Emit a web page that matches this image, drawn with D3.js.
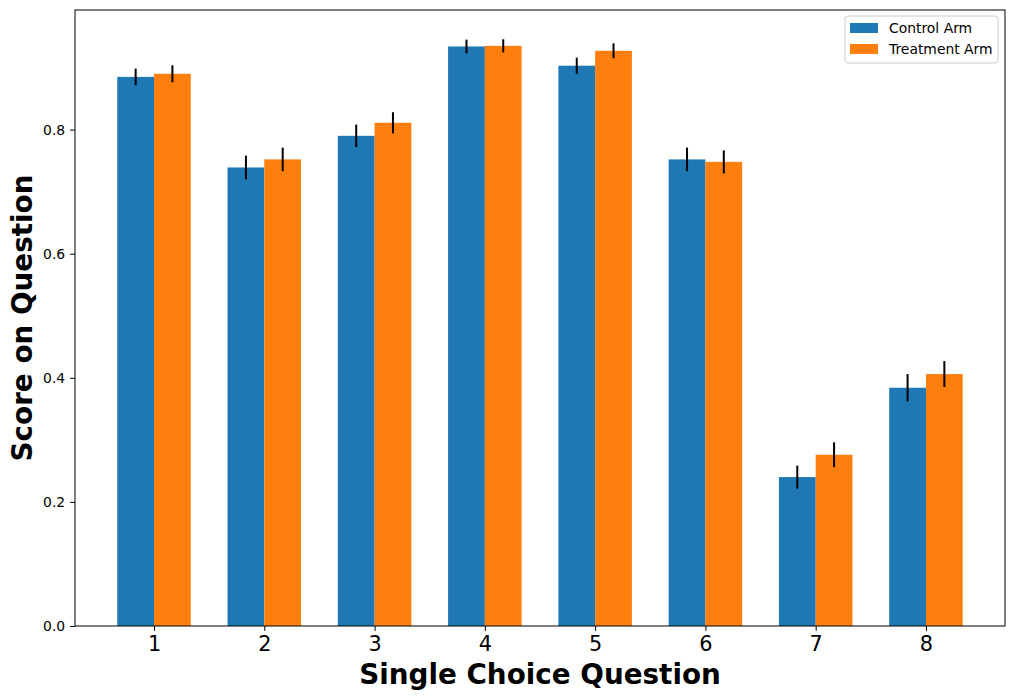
<!DOCTYPE html>
<html>
<head>
<meta charset="utf-8">
<script src="https://cdn.jsdelivr.net/npm/d3@7"></script>
<style>
  body { margin: 0; background: #fff; }
  text { font-family: "DejaVu Sans", sans-serif; }
</style>
</head>
<body>
<div id="chart"></div>
<script>
// values
var questions = [1, 2, 3, 4, 5, 6, 7, 8];
var controlScores = [0.885, 0.739, 0.790, 0.934, 0.903, 0.752, 0.240, 0.384];
var controlErrors = [0.0134, 0.019, 0.018, 0.011, 0.013, 0.019, 0.0185, 0.022];
var treatmentScores = [0.890, 0.752, 0.811, 0.935, 0.927, 0.748, 0.276, 0.406];
var treatmentErrors = [0.0137, 0.019, 0.017, 0.0105, 0.012, 0.0185, 0.020, 0.021];
var seriesNames = ["Control Arm", "Treatment Arm"];
var yTicks = [0.0, 0.2, 0.4, 0.6, 0.8];

var W = 1015, H = 699;
var margin = { top: 10, right: 10, bottom: 73, left: 75 },
    width = W - margin.left - margin.right,
    height = H - margin.top - margin.bottom;
var barW = 1 / 3;
var colors = ["#1f77b4", "#ff7f0e"];

var svg = d3.select("#chart").append("svg")
    .attr("width", W)
    .attr("height", H);
var g = svg.append("g")
    .attr("transform", "translate(" + margin.left + "," + margin.top + ")");

// matplotlib style 5% margins on x, top of y from max(value+err)
var lo = 1 - barW, hi = 8 + barW, pad = (hi - lo) * 0.05;
var x = d3.scaleLinear().domain([lo - pad, hi + pad]).range([0, width]);
var ymax = d3.max(treatmentScores.map(function (d, i) { return d + treatmentErrors[i]; })
    .concat(controlScores.map(function (d, i) { return d + controlErrors[i]; }))) * 1.05;
var y = d3.scaleLinear().domain([0, ymax]).range([height, 0]);

var series = [
    { name: seriesNames[0], values: controlScores, errs: controlErrors, offset: -barW },
    { name: seriesNames[1], values: treatmentScores, errs: treatmentErrors, offset: 0 }
];

series.forEach(function (s, si) {
    var rows = questions.map(function (q, i) { return { q: q, v: s.values[i], e: s.errs[i] }; });
    g.selectAll(".bar" + si)
        .data(rows)
        .enter().append("rect")
        .attr("x", function (d) { return x(d.q + s.offset); })
        .attr("width", x(barW) - x(0))
        .attr("y", function (d) { return y(d.v); })
        .attr("height", function (d) { return height - y(d.v); })
        .style("fill", colors[si]);
    g.selectAll(".err" + si)
        .data(rows)
        .enter().append("line")
        .attr("x1", function (d) { return x(d.q + s.offset + barW / 2); })
        .attr("x2", function (d) { return x(d.q + s.offset + barW / 2); })
        .attr("y1", function (d) { return y(d.v - d.e); })
        .attr("y2", function (d) { return y(d.v + d.e); })
        .style("stroke", "#000")
        .style("stroke-width", 2);
});

// axes
var yAxis = g.append("g")
    .call(d3.axisLeft(y).tickValues(yTicks).tickFormat(d3.format(".1f")).tickSize(4.9).tickPadding(4.9));
yAxis.selectAll("text").style("font-size", "13.9px").style("fill", "#000");
var xAxis = g.append("g")
    .attr("transform", "translate(0," + height + ")")
    .call(d3.axisBottom(x).tickValues(questions).tickFormat(d3.format("d")).tickSize(4.9).tickPadding(4.9));
xAxis.selectAll("text").style("font-size", "20.8px").style("fill", "#000");
g.selectAll(".domain").remove();
g.selectAll(".tick line").style("stroke", "#000");

g.append("rect")
    .attr("width", width).attr("height", height)
    .style("fill", "none").style("stroke", "#000").style("stroke-width", 1);

// axis labels
svg.append("text")
    .attr("x", margin.left + width / 2)
    .attr("y", 684)
    .attr("text-anchor", "middle")
    .style("font-size", "27.8px").style("font-weight", "bold")
    .text("Single Choice Question");
svg.append("text")
    .attr("transform", "translate(32," + (margin.top + height / 2) + ") rotate(-90)")
    .attr("text-anchor", "middle")
    .style("font-size", "27.8px").style("font-weight", "bold")
    .text("Score on Question");

// legend
var legend = svg.append("g").attr("transform", "translate(845,16)");
legend.append("rect")
    .attr("width", 153).attr("height", 47).attr("rx", 3)
    .style("fill", "#fff").style("stroke", "#ccc").style("stroke-width", 1);
seriesNames.forEach(function (name, i) {
    legend.append("rect")
        .attr("x", 5).attr("y", 7 + i * 21)
        .attr("width", 28).attr("height", 10)
        .style("fill", colors[i]);
    legend.append("text")
        .attr("x", 44).attr("y", 17 + i * 21)
        .style("font-size", "13.9px")
        .text(name);
});
</script>
</body>
</html>
